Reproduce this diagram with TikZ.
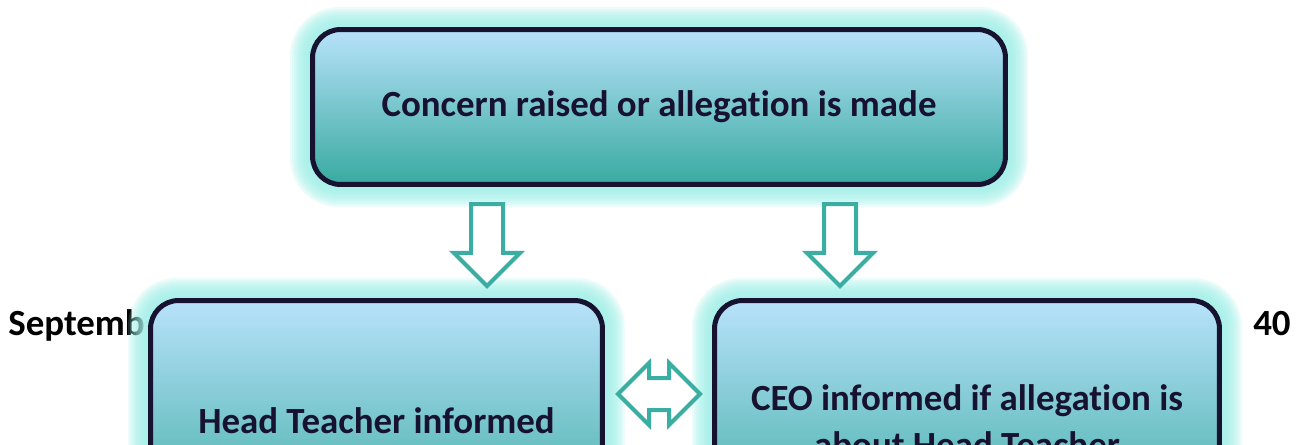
\documentclass[tikz,border=0pt]{standalone}
\usepackage{fontspec}
\setmainfont{Carlito}[Ligatures=NoCommon]
\usetikzlibrary{shapes.arrows,backgrounds}
\definecolor{boxtop}{HTML}{B8E2FA}
\definecolor{boxbottom}{HTML}{38AAA0}
\definecolor{boxline}{HTML}{16122F}
\definecolor{glowcol}{HTML}{9EEEE6}
\definecolor{arrowcol}{HTML}{3AAEA2}
\begin{document}
\begin{tikzpicture} [x=0.02cm,y=-0.02cm,
  flowbox/.style={draw=boxline, line width=0.1cm, rounded corners=0.56cm,
    top color=boxtop, bottom color=boxbottom, text=boxline, align=center,
    font=\bfseries\fontsize{21}{26.6}\selectfont},
  downarrow/.style={single arrow, draw=arrowcol, fill=white, line width=0.08cm,
    rotate=-90, anchor=tail, minimum height=1.64cm, inner xsep=0pt, inner ysep=0.28cm,
    single arrow head extend=0.34cm},
  twoway/.style={double arrow, draw=arrowcol, fill=white, line width=0.08cm,
    minimum height=1.64cm, inner xsep=0pt, inner ysep=0.28cm,
    double arrow head extend=0.3cm},
  pagetext/.style={font=\bfseries\fontsize{21}{24}\selectfont, inner sep=0pt}]
  \useasboundingbox (0,0) rectangle (1299,444);

% boxes
  \node [flowbox, minimum width=13.86cm, minimum height=3.1cm] (concern) at (659,107)
    {Concern raised or allegation is made};
  \node [flowbox, minimum width=9.04cm, minimum height=4.82cm] (head) at (376.5,421)
    {Head Teacher informed};
  \node [flowbox, minimum width=10.1cm, minimum height=4.82cm] (ceo) at (967,421)
    {CEO informed if allegation is\\about Head Teacher};

% arrows
  \node [downarrow] (toHead) at (487,202) {};
  \node [downarrow] (toCeo) at (840,202) {};
  \node [twoway] (between) at (659,394) {};

  \begin{scope}[on background layer]
  % page header behind the glow
    \node [pagetext, anchor=base west] (month) at (8,335) {Septemb};
    \node [pagetext, anchor=base east] (pageno) at (1291,335) {40};
  % glow
    \foreach \bx in {concern,head,ceo}
      \foreach \w in {40,36,...,4}
        \draw [glowcol, line width=\w*0.02cm, opacity=0.18, rounded corners=0.56cm]
          (\bx.north west) rectangle (\bx.south east);
  \end{scope}
\end{tikzpicture}
\end{document}
